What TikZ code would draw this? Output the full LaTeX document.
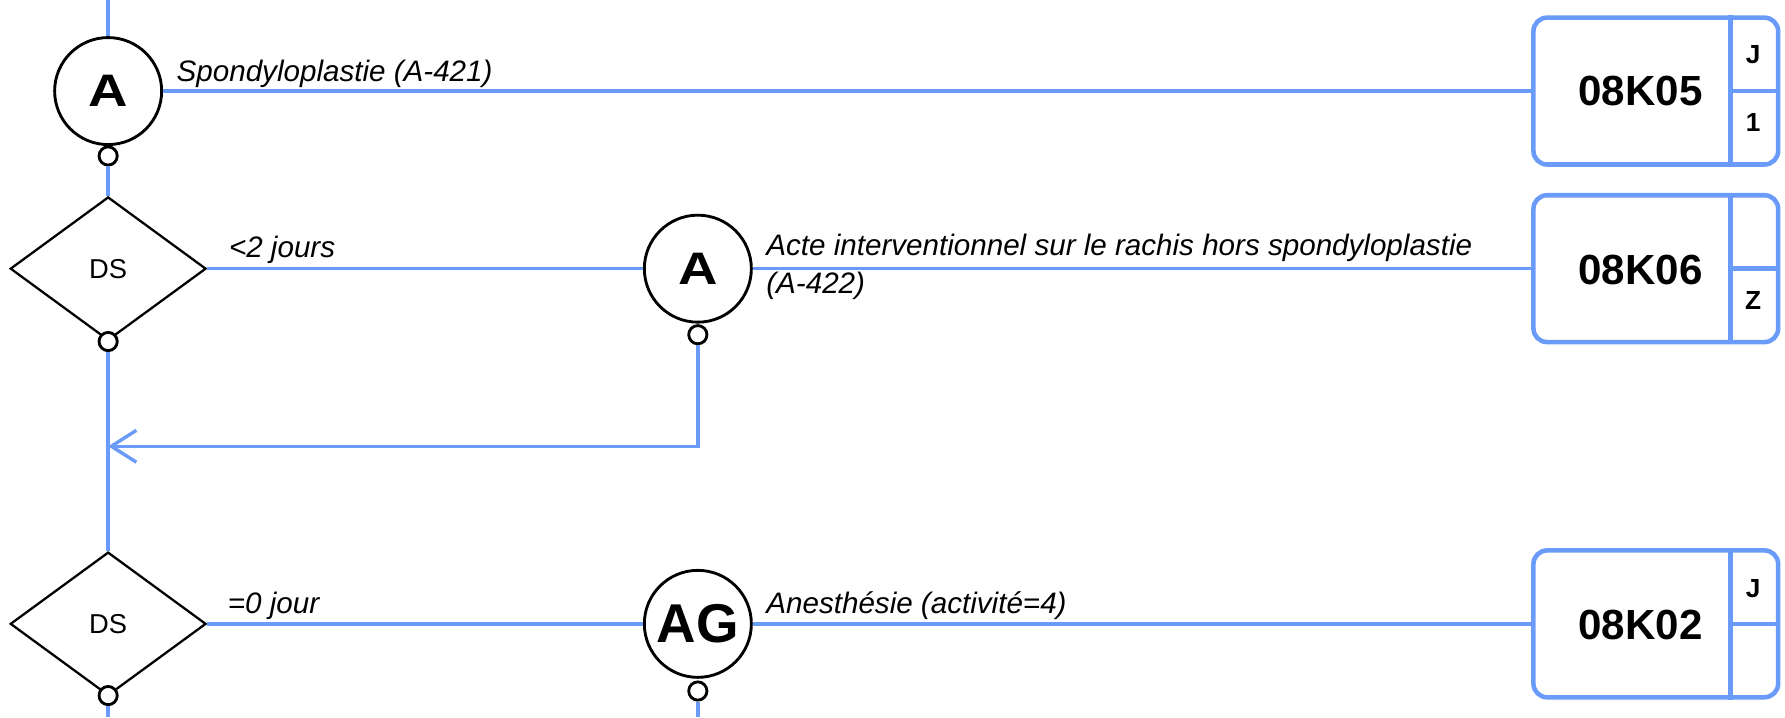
\documentclass[tikz,border=0pt]{standalone}
\usepackage{fontspec}
\usepackage{graphicx}
\setmainfont{Liberation Sans}
\usetikzlibrary{shapes.geometric,arrows.meta,calc}
\definecolor{flow}{RGB}{106,155,248}
\begin{document}
\begin{tikzpicture}[x=1pt,y=-1pt,
  flowline/.style={draw=flow,line width=3pt},
  bigc/.style={circle,draw=black,line width=2.5pt,fill=white,minimum size=94pt,inner sep=0pt,font=\bfseries\fontsize{40}{40}\selectfont},
  smallc/.style={circle,draw=black,line width=2.5pt,fill=white,minimum size=16pt,inner sep=0pt},
  decis/.style={diamond,draw=black,line width=2pt,fill=white,minimum width=172pt,minimum height=126pt,inner sep=0pt,font=\fontsize{24}{24}\selectfont},
  codebox/.style={draw=flow,line width=4pt,fill=white,rounded corners=12pt,minimum width=215pt,minimum height=129pt,inner sep=0pt},
  divider/.style={draw=flow,line width=4pt},
  lbl/.style={anchor=base west,inner sep=0pt,font=\itshape\fontsize{26}{34}\selectfont},
  code/.style={font=\bfseries\fontsize{37}{37}\selectfont,inner sep=0pt},
  cell/.style={font=\bfseries\fontsize{23}{23}\selectfont,inner sep=0pt},
]
\useasboundingbox (0,0) rectangle (1568,630);

% coordinates for free ends
\coordinate (top) at (95,0);
\coordinate (bot1) at (95,630);
\coordinate (bot2) at (613,630);
\coordinate (m1) at (95,392);

% boxes
\node[codebox] (B1) at (1454.5,80) {};
\node[codebox] (B2) at (1454.5,236) {};
\node[codebox] (B3) at (1454.5,548) {};
\foreach \b in {B1,B2,B3}{
  \draw[divider] ($(\b.north east)+(-44,0)$) -- ($(\b.south east)+(-44,0)$);
  \draw[divider] ($(\b.east)+(-44,0)$) -- (\b.east);
}
\node[code] (B1t) at (1441,80) {08K05};
\node[code] (B2t) at (1441,237) {08K06};
\node[code] (B3t) at (1441,549) {08K02};
\node[cell] (B1a) at (1540,48) {J};
\node[cell] (B1b) at (1540,108) {1};
\node[cell] (B2b) at (1540,264) {Z};
\node[cell] (B3a) at (1540,517) {J};

% flow nodes
\node[bigc] (A1) at (95,80) {\scalebox{1.2}[1]{A}};
\node[decis] (D1) at (95,236) {DS};
\node[bigc] (A2) at (613,236) {\scalebox{1.2}[1]{A}};
\node[decis] (D2) at (95,548) {DS};
\node[bigc,font=\bfseries\fontsize{48}{48}\selectfont] (AG) at (613,548) {AG};
\node[smallc] (A1s) at (95,137) {};
\node[smallc] (D1s) at (95,300) {};
\node[smallc] (A2s) at (613,294) {};
\node[smallc] (D2s) at (95,611) {};
\node[smallc] (AGs) at (613,607) {};

% flow lines
\draw[flowline] (top) -- (A1);
\draw[flowline] (A1s) -- (D1);
\draw[flowline] (D1s) -- (D2);
\draw[flowline] (D2s) -- (bot1);
\draw[flowline] (AGs) -- (bot2);
\draw[flowline] (A1) -- (B1);
\draw[flowline] (D1) -- (A2);
\draw[flowline] (A2) -- (B2);
\draw[flowline] (D2) -- (AG);
\draw[flowline] (AG) -- (B3);

% return arrow
\draw[flowline,-{Straight Barb[length=22pt,width=28pt]}] (A2s) |- (m1);

% labels
\node[lbl] (L1) at (155,72) {Spondyloplastie (A-421)};
\node[lbl] (L2) at (201,226) {<2 jours};
\node[lbl] (L3) at (673,224) {Acte interventionnel sur le rachis hors spondyloplastie};
\node[lbl] (L4) at (673,258) {(A-422)};
\node[lbl] (L5) at (200,539) {=0 jour};
\node[lbl] (L6) at (673,539) {Anesthésie (activité=4)};
\end{tikzpicture}
\end{document}
